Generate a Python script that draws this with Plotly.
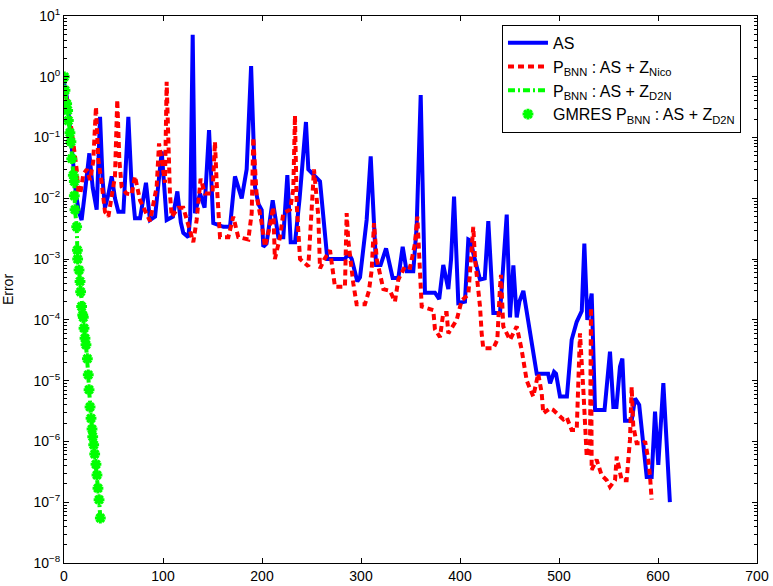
import plotly.graph_objects as go

# AS (blue)
as_x = [0, 3, 6, 9, 12, 15, 17.8, 21, 25.6, 29, 33, 36.4, 39, 41.4, 45, 48.2, 51.5, 54.9, 60, 65,
        68, 71.7, 76.8, 82.8, 86.9, 92, 98.7, 103.7, 110, 114.5, 118, 120.5, 125.6, 127.5, 130, 132.3,
        137.4, 142, 146.5, 150.8, 161, 167.7, 172.7, 179.5, 184.5, 189, 193, 196.5, 199.7, 201.3,
        204.6, 210.8, 216.5, 221.5, 225.6, 229, 233.4, 238, 244.4, 246.8, 255.2, 258.6, 266, 283.8,
        287.2, 290.6, 296.3, 299, 305.7, 309.8, 315.2, 319.8, 325.3, 332, 337.7, 342.1, 346.1, 352.8,
        356.2, 360.3, 364.6, 374.7, 379, 383.1, 388.2, 391, 394, 398.3, 405, 408.4, 411, 413.4, 420.2,
        425, 428.6, 433.7, 440.4, 447.2, 450.5, 453.9, 457.3, 460, 464, 474, 477.5, 489, 491, 495, 497,
        501, 508, 512.8, 517.9, 523, 525.6, 528.6, 533, 536.4, 546, 551.5, 554.9, 558, 561.6, 564,
        566.7, 573.4, 576.8, 581, 588.6, 593.6, 597, 600.3, 605.4, 612]
as_y = [0.8, 0.45, 0.15, 0.04, 0.012, 0.006, 4.4e-3, 0.012, 0.055, 0.015, 6.5e-3, 0.22, 0.02, 7e-3,
        0.012, 0.023, 0.01, 6e-3, 6e-3, 0.22, 0.02, 4.7e-3, 4.7e-3, 0.018, 4.4e-3, 5e-3, 0.059, 4.4e-3,
        5e-3, 0.013, 4e-3, 2.7e-3, 2.3e-3, 5e-3, 4.9, 5.7e-3, 0.012, 7e-3, 0.133, 3.9e-3, 3.4e-3,
        3.4e-3, 0.023, 0.01, 0.03, 1.5, 0.015, 8e-3, 6.4e-3, 1.6e-3, 1.8e-3, 9.3e-3, 2.3e-3, 2.3e-3,
        0.024, 1.9e-3, 1.9e-3, 0.01, 0.18, 0.03, 0.021, 0.019, 1.0e-3, 1.0e-3, 1.26e-3, 1.0e-3, 4.3e-4,
        5e-4, 4.4e-3, 0.049, 8e-4, 8e-4, 1.5e-3, 4.9e-4, 4.9e-4, 1.6e-3, 6.3e-4, 6.3e-4, 3.4e-3, 0.5,
        2.8e-4, 2.8e-4, 2.2e-4, 8e-4, 3.2e-4, 1e-3, 0.0107, 1.9e-4, 2e-4, 2.1e-3, 2e-3, 1.25e-3, 4.6e-4,
        4.8e-4, 4.2e-3, 1.3e-4, 1.3e-4, 5.4e-3, 1.1e-4, 7.9e-4, 1.1e-4, 2e-4, 3e-4, 2.8e-5, 1.3e-5,
        1.3e-5, 9e-6, 1.4e-5, 1.3e-5, 5.5e-6, 5.5e-6, 4.7e-5, 9.3e-5, 1.4e-4, 1.8e-3, 1e-4, 2.7e-4,
        3.3e-6, 3.3e-6, 3e-5, 3.7e-6, 3.7e-6, 1.7e-5, 2.3e-5, 2.2e-6, 2.2e-6, 5.1e-6, 4e-6, 2.6e-7,
        2.6e-7, 3.1e-6, 4.1e-7, 9.1e-6, 1.0e-7]

# P_BNN : AS + Z_Nico (red)
nico_x = [0, 2.7, 7.8, 12.8, 14.4, 16.5, 19.5, 23, 26.3, 29.5, 32.3, 34.7, 38, 41.4, 44.8, 48.2, 51.5,
          53.8, 55.9, 58.2, 63, 68.3, 71.7, 76.8, 81.8, 86.9, 93.6, 96, 98.6, 102, 103.7, 107, 108.8,
          115.5, 120.5, 125.6, 130.6, 134, 138, 142.4, 150, 152.5, 154.2, 157.6, 166, 171, 176, 186.2,
          189.6, 191.2, 194.6, 199.7, 203, 207, 211.4, 213, 218.2, 221.5, 228.3, 231.6, 233.3, 235,
          238.4, 246.8, 250.2, 252.5, 256.9, 258.6, 263, 268.7, 273.7, 283.8, 285.5, 287.2, 292.2,
          295.6, 304, 308, 310.8, 313.1, 315.9, 322.6, 329.3, 334.3, 337.7, 344.4, 349.5, 354.5, 356.9,
          359.6, 361.3, 373, 374.7, 379.8, 383.1, 386.5, 388.2, 396.7, 401.7, 408.4, 410.1, 413.4,
          415.2, 420.2, 421.9, 423.5, 433.7, 437.7, 440.4, 441.4, 443.7, 450.5, 457.3, 462.3, 467.4,
          474, 479, 482.5, 484.1, 491, 494.2, 499.3, 504.4, 507.7, 512.8, 517.9, 521.2, 524.6, 528,
          531.3, 532.3, 533, 538, 543, 548.2, 551.5, 556.6, 558.3, 563.3, 568.3, 570, 571.7, 573.4,
          575, 578.5, 585.2, 587, 590.2, 592, 593.6]
nico_y = [1.0, 0.42, 0.13, 0.03, 0.013, 0.012, 0.025, 0.03, 0.02, 0.04, 0.32, 0.043, 0.018, 6e-3,
          5e-3, 0.012, 0.023, 0.42, 0.043, 0.0155, 0.012, 0.0115, 0.023, 9.3e-3, 6.5e-3, 4.2e-3,
          0.0155, 0.08, 0.043, 0.018, 0.83, 0.012, 5e-3, 7e-3, 7e-3, 3.4e-3, 1.9e-3, 4.4e-3, 0.021,
          0.012, 0.012, 0.085, 0.018, 2.3e-3, 2.3e-3, 5e-3, 2.3e-3, 2.1e-3, 5.7e-3, 0.1, 0.011, 3.9e-3,
          1.6e-3, 3e-3, 7.2e-3, 1e-3, 2.3e-3, 5.7e-3, 6.5e-3, 0.014, 0.23, 8.3e-3, 1e-3, 7.6e-4, 7.2e-3,
          0.03, 5e-3, 7e-4, 1e-3, 1.4e-3, 3.5e-4, 3.5e-4, 5.7e-3, 2e-3, 4e-4, 1.8e-4, 1.8e-4, 3e-4,
          6.6e-4, 3.9e-3, 1e-3, 3.2e-4, 3e-4, 2e-4, 4.6e-4, 7.6e-4, 7.2e-4, 1.8e-3, 5e-3, 8e-4,
          1.66e-4, 1.45e-4, 7e-5, 5.2e-5, 1.3e-4, 1.3e-4, 6e-5, 1e-4, 2.1e-4, 2.6e-4, 5.9e-4, 3.4e-3,
          1.0e-3, 1.66e-4, 6e-5, 3.4e-5, 3.4e-5, 4.7e-5, 3.5e-4, 5.5e-4, 7.8e-5, 4.7e-5, 7.8e-5,
          3.2e-5, 1.0e-5, 5.5e-6, 1.3e-5, 6.3e-6, 2.9e-6, 3.5e-6, 3.3e-6, 2.75e-6, 2.3e-6, 2.5e-6,
          1.55e-6, 1.55e-6, 6e-5, 7e-6, 5.6e-7, 8e-7, 1.6e-4, 3.4e-7, 5e-7, 2.8e-7, 2.3e-7, 1.8e-7,
          2.3e-7, 5.6e-7, 2.3e-7, 2.3e-7, 5e-7, 1.07e-6, 7.9e-6, 1.8e-6, 9.3e-7, 9.3e-7, 1e-6, 5e-7,
          2.6e-7, 1.1e-7]

# P_BNN : AS + Z_D2N (green) and GMRES
d2n_x = [0.3, 1, 2.7, 3.7, 4.4, 6, 7, 7.8, 9.4, 10.4, 10.4, 11.1, 12.8, 13.5, 13.8, 15.2, 16.2, 16.8,
         17.8, 18.9, 19.5, 20.2, 21.2, 22.2, 23.6, 24.5, 25.3, 26.3, 27.3, 28.3, 29, 30, 31, 32.3,
         33.3, 34.3, 35.4, 36.7]
d2n_y = [1.0, 0.6, 0.36, 0.28, 0.19, 0.12, 0.085, 0.045, 0.024, 0.019, 0.011, 6.5e-3, 3.4e-3, 1.4e-3,
         1.0e-3, 6.6e-4, 4.3e-4, 2.9e-4, 1.66e-4, 1.2e-4, 1.1e-4, 7.3e-5, 5e-5, 3.9e-5, 2.3e-5,
         1.25e-5, 7.1e-6, 3.7e-6, 2.4e-6, 1.6e-6, 1.2e-6, 8.8e-7, 6.2e-7, 4.2e-7, 2.8e-7, 1.7e-7,
         1.1e-7, 5.5e-8]

x_ticks = [0, 100, 200, 300, 400, 500, 600, 700]
y_exps = [1, 0, -1, -2, -3, -4, -5, -6, -7, -8]

FONT = "Liberation Sans, Arial, Helvetica, sans-serif"

fig = go.Figure()
fig.add_trace(go.Scatter(x=as_x, y=as_y, mode="lines", name="AS",
                         line=dict(color="#0000FF", width=4)))
fig.add_trace(go.Scatter(x=nico_x, y=nico_y, mode="lines",
                         name="P<sub>BNN</sub> : AS + Z<sub>Nico</sub>",
                         line=dict(color="#FF0000", width=4, dash="6px,4px")))
fig.add_trace(go.Scatter(x=d2n_x, y=d2n_y, mode="lines",
                         name="P<sub>BNN</sub> : AS + Z<sub>D2N</sub>",
                         line=dict(color="#00FF00", width=4, dash="7px,3px,2px,3px")))
fig.add_trace(go.Scatter(x=d2n_x, y=d2n_y, mode="markers",
                         name="GMRES P<sub>BNN</sub> : AS + Z<sub>D2N</sub>",
                         marker=dict(symbol="asterisk", size=9, color="#00FF00",
                                     line=dict(color="#00FF00", width=3))))

minor_vals = [m * 10.0 ** e for e in range(-8, 1) for m in range(2, 10)]

fig.update_layout(
    width=773, height=586,
    margin=dict(l=64, r=16, t=16, b=23, autoexpand=False),
    paper_bgcolor="white", plot_bgcolor="white",
    font=dict(family=FONT, size=14, color="black"),
    showlegend=True,
    legend=dict(x=0.632, y=0.984, xanchor="left", yanchor="top",
                bgcolor="white", bordercolor="black", borderwidth=1,
                font=dict(family=FONT, size=16), tracegroupgap=0,
                itemwidth=40),
    xaxis=dict(range=[0, 700], tickvals=x_ticks, ticktext=[str(v) for v in x_ticks],
               ticks="inside", ticklen=5, tickcolor="black", showline=True, linecolor="black",
               linewidth=1, mirror="ticks", showgrid=False, zeroline=False, automargin=False,
               ticklabeloverflow="allow", tickfont=dict(family=FONT, size=14)),
    yaxis=dict(type="log", range=[-8, 1],
               tickvals=[10.0 ** e for e in y_exps],
               ticktext=["10<sup>%s</sup>" % (str(e).replace("-", "\u2212")) for e in y_exps],
               ticks="inside", ticklen=5, tickcolor="black", showline=True, linecolor="black",
               linewidth=1, mirror="ticks", showgrid=False, zeroline=False, automargin=False,
               ticklabeloverflow="allow", tickfont=dict(family=FONT, size=14),
               minor=dict(tickvals=minor_vals, ticks="inside", ticklen=3, tickcolor="black",
                          showgrid=False),
               title=dict(text="Error", font=dict(family=FONT, size=14), standoff=17)),
)

# remove the browser's default 8px page margin so the figure fills the window exactly
fig.write_html("out.html", config={"displayModeBar": False},
               post_script="document.body.style.margin='0';document.body.style.overflow='hidden';")
